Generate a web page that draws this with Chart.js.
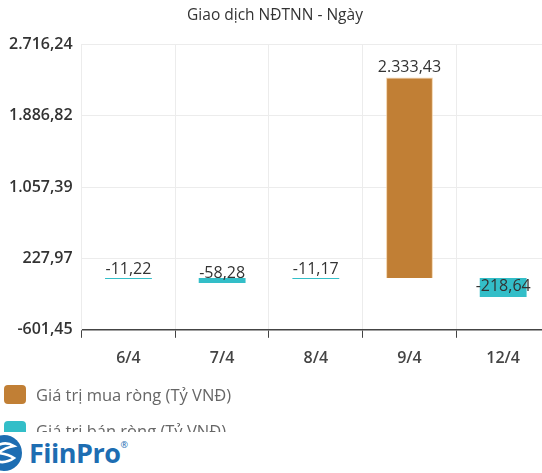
<!DOCTYPE html>
<html>
<head>
<meta charset="utf-8">
<script src="https://cdn.jsdelivr.net/npm/chart.js@4.4.1/dist/chart.umd.min.js"></script>
<style>
  html, body { margin: 0; padding: 0; background: #fff; overflow: hidden; width: 542px; height: 473px; }
  #wrap { position: relative; width: 542px; height: 473px; overflow: hidden; font-family: "Open Sans", sans-serif; }
  #myChart { position: absolute; left: 0; top: 0; }
  #legend { position: absolute; left: 4px; top: 376px; }
  .item { display: flex; align-items: center; height: 36px; }
  .box { width: 22px; height: 19px; border-radius: 4px; margin-right: 10px; }
  .txt { font-size: 16.5px; color: #666; }
  #logo { position: absolute; left: 0; top: 432px; width: 542px; height: 41px; background: #fff; display: flex; align-items: center; }
  #logo .name { font-family: "Open Sans", sans-serif; font-weight: 700; font-size: 27px; color: #1d6db2; margin-left: 5px; letter-spacing: -0.5px; }
  #logo sup { font-size: 9px; font-weight: 400; color: #1d6db2; vertical-align: top; position: relative; top: 4px; }
</style>
</head>
<body>
<div id="wrap">
  <canvas id="myChart" width="550" height="379"></canvas>
  <div id="legend"></div>
  <div id="logo">
    <svg width="24" height="38" viewBox="0 0 24 38">
      <circle cx="4" cy="19" r="18" fill="#1d6db2"/>
      <path d="M-6 14 Q4 6 14 12 Q4 14 -2 19 Q8 20 14 24 Q4 31 -6 26" fill="none" stroke="#fff" stroke-width="2.6"/>
    </svg>
    <span class="name">FiinPro<sup>®</sup></span>
  </div>
</div>
<script>
// data
var categories = ['6/4', '7/4', '8/4', '9/4', '12/4'];
var netBuy = [null, null, null, 2333.43, null];
var netSell = [-11.22, -58.28, -11.17, null, -218.64];
var yTicks = [-601.45, 227.97, 1057.39, 1886.82, 2716.24];
var seriesLabels = ['Giá trị mua ròng (Tỷ VNĐ)', 'Giá trị bán ròng (Tỷ VNĐ)'];
var seriesColors = ['#c17f35', '#33bec8'];

function fmt(v) {
    var neg = v < 0;
    var parts = Math.abs(v).toFixed(2).split('.');
    var intPart = parts[0].replace(/\B(?=(\d{3})+(?!\d))/g, '.');
    return (neg ? '-' : '') + intPart + ',' + parts[1];
}

// value labels above the value end of each bar
var barLabels = {
    id: 'barLabels',
    afterDatasetsDraw: function (chart) {
        var ctx = chart.ctx;
        ctx.save();
        ctx.font = '16px "Open Sans", sans-serif';
        ctx.fillStyle = '#333';
        ctx.textAlign = 'center';
        ctx.textBaseline = 'bottom';
        chart.data.datasets.forEach(function (ds, i) {
            var meta = chart.getDatasetMeta(i);
            meta.data.forEach(function (bar, j) {
                var v = ds.data[j];
                if (v === null || v === undefined) return;
                ctx.fillText(fmt(v), bar.x, bar.y - 2);
            });
        });
        ctx.restore();
    }
};

document.addEventListener('DOMContentLoaded', function () {
    var ctx = document.getElementById('myChart').getContext('2d');

    var chart = new Chart(ctx, {
        type: 'bar',
        data: {
            labels: categories,
            datasets: [{
                label: seriesLabels[0],
                data: netBuy,
                backgroundColor: seriesColors[0],
                borderColor: 'rgba(240,200,150,0.8)',
                borderWidth: 1
            }, {
                label: seriesLabels[1],
                data: netSell,
                backgroundColor: seriesColors[1],
                borderWidth: 0
            }]
        },
        options: {
            responsive: false,
            animation: false,
            grouped: false,
            barPercentage: 0.5,
            categoryPercentage: 1,
            layout: { padding: { left: 0, right: 0, top: 0, bottom: 0 } },
            plugins: {
                legend: { display: false },
                tooltip: { enabled: false },
                title: {
                    display: true,
                    text: 'Giao dịch NĐTNN - Ngày',
                    color: '#333',
                    font: { family: 'Open Sans', size: 15.5, weight: 'normal' },
                    padding: { top: 6, bottom: 20 }
                }
            },
            scales: {
                x: {
                    grid: {
                        color: '#ececec',
                        tickColor: '#444',
                        tickLength: 8,
                        offset: true
                    },
                    border: { color: '#444', width: 1.5 },
                    ticks: {
                        color: '#444',
                        padding: 11,
                        font: { family: 'Open Sans', size: 16, weight: '600' }
                    }
                },
                y: {
                    min: yTicks[0],
                    max: yTicks[yTicks.length - 1],
                    afterBuildTicks: function (scale) {
                        scale.ticks = yTicks.map(function (v) { return { value: v }; });
                    },
                    grid: { color: '#ececec', drawTicks: false },
                    border: { color: '#ececec' },
                    ticks: {
                        color: '#333',
                        padding: 9,
                        font: { family: 'Open Sans', size: 16, weight: '600' },
                        callback: function (v) { return fmt(v); }
                    }
                }
            }
        },
        plugins: [barLabels]
    });

    // legend list under the chart
    var legend = document.getElementById('legend');
    chart.data.datasets.forEach(function (ds) {
        var item = document.createElement('div');
        item.className = 'item';
        var box = document.createElement('div');
        box.className = 'box';
        box.style.background = ds.backgroundColor;
        var txt = document.createElement('span');
        txt.className = 'txt';
        txt.textContent = ds.label;
        item.appendChild(box);
        item.appendChild(txt);
        legend.appendChild(item);
    });
});
</script>
</body>
</html>
